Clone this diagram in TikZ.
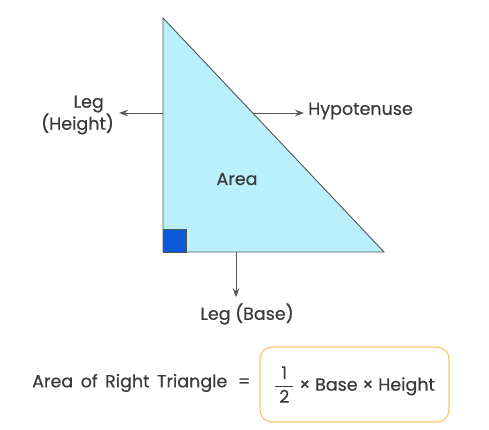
\documentclass[tikz,border=0pt]{standalone}
\usepackage{amsmath}
\usepackage{fontspec}
\setmainfont{Poppins}[UprightFeatures={FakeBold=0.5}]
\usetikzlibrary{arrows.meta,calc}
\definecolor{txt}{HTML}{3A3A3A}
\definecolor{edge}{HTML}{555555}
\definecolor{trifill}{HTML}{B9F0FC}
\definecolor{sqfill}{HTML}{0A5AD8}
\definecolor{boxline}{HTML}{F5C76E}

\begin{document}
\begin{tikzpicture}[x=1pt,y=-1pt,font=\fontsize{17.5}{22}\selectfont,
  lbl/.style={text=txt,inner sep=2pt},
  arr/.style={draw=edge,line width=0.9pt,-{Stealth[length=9pt,width=6.5pt,inset=3pt]}}]
\useasboundingbox (0,0) rectangle (489,429);
\coordinate (A) at (163,252); \coordinate (B) at (384,252); \coordinate (C) at (163,18);
\draw[edge,line width=0.9pt,fill=trifill] (A)--(B)--(C)--cycle;
\draw[edge,line width=0.9pt,fill=sqfill] (163,229) rectangle (186,252);
\node[lbl] (area) at (237,179) {Area};
% labels
\node[lbl,anchor=east,align=right] (height) at (116,115) {Leg\hspace*{10pt}\\(Height)};
\node[lbl,anchor=west] (hyp) at (306,111) {Hypotenuse};
\node[lbl] (base) at (247,314) {Leg (Base)};
\coordinate (hA) at (163,113); \coordinate (hB) at ($(C)!0.406!(B)$); \coordinate (bA) at (236,252);
\draw[arr] (hA) -- ($(height.east |- hA)+(3,0)$);
\draw[arr] (hB) -- ($(hyp.west |- hB)+(-2,0)$);
\draw[arr] (bA) -- ($(bA |- base.north)+(0,-4)$);
% formula
\node[lbl,anchor=west] (eq) at (30,383) {\spaceskip=7.5pt\relax Area of Right Triangle\hspace{3pt} =};
\node[lbl,draw=boxline,line width=1.2pt,rounded corners=12pt,minimum width=189pt,minimum height=75pt]
  (formula) at (354.5,384.5) {$\genfrac{}{}{1pt}{0}{\makebox[18pt]{1}}{\makebox[18pt]{2}}$ × Base × Height};
\end{tikzpicture}
\end{document}
